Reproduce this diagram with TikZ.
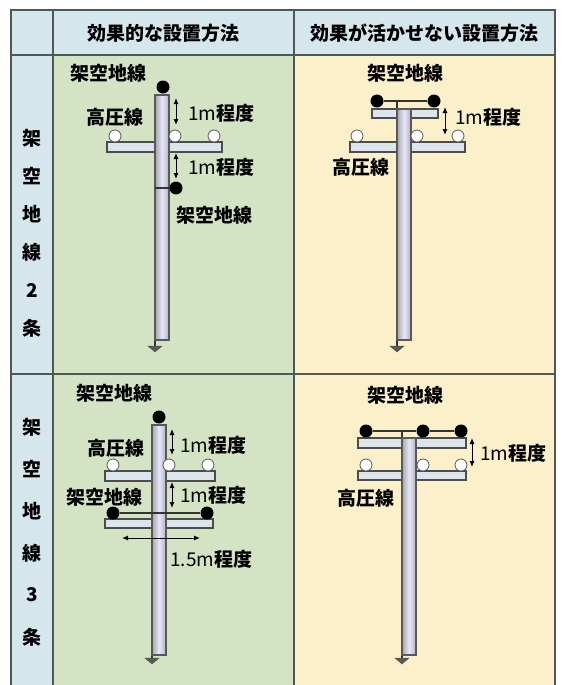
\documentclass[tikz,border=0pt]{standalone}
\usepackage{fontspec}
\setmainfont{Noto Sans CJK JP}
\usetikzlibrary{arrows.meta}

\definecolor{celeste}{HTML}{D5E6EC}
\definecolor{verde}{HTML}{D3E3C4}
\definecolor{giallo}{HTML}{FBF0C9}
\definecolor{griglia}{HTML}{4E5954}
\definecolor{grigioBraccio}{HTML}{DCE4EC}

\tikzset{
  testo/.style={font=\bfseries\fontsize{19}{19}\selectfont, inner sep=0pt},
  braccio/.style={fill=grigioBraccio, draw=gray!60!black, line width=1.1pt},
  isolatore/.style={circle, fill=white, draw=gray!70!black, line width=0.8pt, minimum size=12pt, inner sep=0pt},
  cavo/.style={circle, fill=black, minimum size=13pt, inner sep=0pt},
  filo/.style={black!80, line width=1.1pt},
  quota/.style={{Latex[length=6pt,width=5pt]}-{Latex[length=6pt,width=5pt]}, line width=1pt},
}

% palo: x centro, y cima, y base
\newcommand{\palo}[3]{%
  \shade[left color=gray!70, right color=gray!60, middle color=white!90!blue,
    draw=black!65, line width=1.1pt] (#1-7,#3) rectangle (#1+7,#2);
}
% messa a terra
\newcommand{\terra}[2]{%
  \draw[fill=gray!70!black, draw=gray!60!black] (#1-7,#2) -- (#1+7,#2) -- (#1,#2+6) -- cycle;
}
\newcommand{\mt}{{\mdseries 1m}程度}

\begin{document}
\begin{tikzpicture}[x=1pt, y=-1pt]
  \useasboundingbox (0,0) rectangle (564,685);

  % --- Tabella ---
  \fill[celeste] (11,10) rectangle (555,55);
  \fill[celeste] (11,55) rectangle (53,685);
  \fill[verde] (53,55) rectangle (294,685);
  \fill[giallo] (294,55) rectangle (555,685);
  \draw[griglia, line width=2.5pt] (11,685) -- (11,10) -- (555,10) -- (555,685);
  \draw[griglia, line width=2.5pt] (11,55) -- (555,55);
  \draw[griglia, line width=2.5pt] (11,374) -- (555,374);
  \draw[griglia, line width=2.5pt] (53,10) -- (53,685);
  \draw[griglia, line width=2.5pt] (294,10) -- (294,685);

  \node[testo] (titEff) at (163,33) {効果的な設置方法};
  \node[testo] (titNon) at (424,33) {効果が活かせない設置方法};

  % colonna di sinistra
  \foreach \c [count=\i] in {架,空,地,線,2,条}
    \node[testo] (due\i) at (32,{100+38*\i}) {\c};
  \foreach \c [count=\i] in {架,空,地,線,3,条}
    \node[testo] (tre\i) at (32,{385+42*\i}) {\c};

  % --- Due cavi, efficace ---
  \draw[braccio] (107,142) rectangle (222,152);
  \draw[filo] (155,188) -- (155,346);
  \palo{162}{95}{340}
  \terra{155}{346}
  \draw[filo] (155,188) -- (176,188);
  \node[cavo] (aSup) at (163,87) {};
  \node[cavo] (aInf) at (176,188) {};
  \foreach \x [count=\i] in {115,175,214}
    \node[isolatore] (aIs\i) at (\x,136) {};
  \node[testo] (aTit) at (108,73) {架空地線};
  \node[testo] (aHv) at (115,117) {高圧線};
  \node[testo] (aGw) at (214,215) {架空地線};
  \coordinate (aQ1) at (176,98);
  \coordinate (aQ2) at (176,125);
  \coordinate (aQ3) at (176,153);
  \coordinate (aQ4) at (176,179);
  \draw[quota] (aQ1) -- (aQ2);
  \draw[quota] (aQ3) -- (aQ4);
  \node[testo, anchor=west] (aM1) at (188,113) {\mt};
  \node[testo, anchor=west] (aM2) at (188,167) {\mt};

  % --- Due cavi, non efficace ---
  \draw[braccio] (372,109) rectangle (438,118);
  \draw[braccio] (350,142) rectangle (465,152);
  \draw[filo] (397,101) -- (397,346);
  \palo{404}{109}{340}
  \terra{397}{346}
  \node[cavo] (bS1) at (377,101) {};
  \node[cavo] (bS2) at (434,101) {};
  \draw[filo] (bS1) -- (bS2);
  \foreach \x [count=\i] in {357,417,458}
    \node[isolatore] (bIs\i) at (\x,136) {};
  \node[testo] (bTit) at (405,73) {架空地線};
  \node[testo] (bHv) at (361,167) {高圧線};
  \coordinate (bQ1) at (445,107);
  \coordinate (bQ2) at (445,135);
  \draw[quota] (bQ1) -- (bQ2);
  \node[testo, anchor=west] (bM) at (455,117) {\mt};

  % --- Tre cavi, efficace ---
  \draw[braccio] (105,471) rectangle (215,481);
  \draw[braccio] (105,519) rectangle (213,528);
  \draw[filo] (152,509) -- (152,658);
  \palo{159}{425}{655}
  \terra{152}{658}
  \node[cavo] (cSup) at (159,417) {};
  \node[cavo] (cI1) at (113,513) {};
  \node[cavo] (cI2) at (207,513) {};
  \draw[filo] (cI1) -- (cI2);
  \foreach \x [count=\i] in {113,169,208}
    \node[isolatore] (cIs\i) at (\x,465) {};
  \node[testo] (cTit) at (114,393) {架空地線};
  \node[testo] (cHv) at (116,448) {高圧線};
  \node[testo] (cGw) at (104,497) {架空地線};
  \coordinate (cQ1) at (172,429);
  \coordinate (cQ2) at (172,455);
  \coordinate (cQ3) at (172,482);
  \coordinate (cQ4) at (172,508);
  \coordinate (cQ5) at (122,538);
  \coordinate (cQ6) at (200,538);
  \draw[quota] (cQ1) -- (cQ2);
  \draw[quota] (cQ3) -- (cQ4);
  \draw[quota] (cQ5) -- (cQ6);
  \node[testo, anchor=west] (cM1) at (180,445) {\mt};
  \node[testo, anchor=west] (cM2) at (180,495) {\mt};
  \node[testo, anchor=west] (cM3) at (170,559) {{\mdseries 1.5m}程度};

  % --- Tre cavi, non efficace ---
  \draw[braccio] (358,438) rectangle (466,448);
  \draw[braccio] (358,471) rectangle (466,480);
  \draw[filo] (402,431) -- (402,658);
  \palo{409}{438}{655}
  \terra{402}{658}
  \node[cavo] (dS1) at (366,431) {};
  \node[cavo] (dS2) at (423,431) {};
  \node[cavo] (dS3) at (461,431) {};
  \draw[filo] (dS1) -- (dS2) -- (dS3);
  \foreach \x [count=\i] in {366,423,461}
    \node[isolatore] (dIs\i) at (\x,465) {};
  \node[testo] (dTit) at (405,395) {架空地線};
  \node[testo] (dHv) at (366,498) {高圧線};
  \coordinate (dQ1) at (472,438);
  \coordinate (dQ2) at (472,467);
  \draw[quota] (dQ1) -- (dQ2);
  \node[testo, anchor=west] (dM) at (480,453) {\mt};
\end{tikzpicture}
\end{document}
